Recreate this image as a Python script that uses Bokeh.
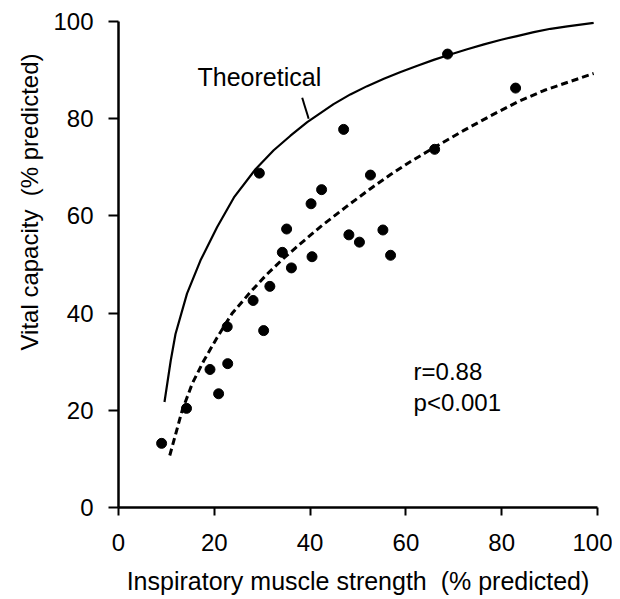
from bokeh.plotting import figure
from bokeh.models import Range1d, FixedTicker, Title
from bokeh.embed import file_html
from bokeh.resources import INLINE
from bokeh.core.properties import value

# Data
obs_x = [9.0, 14.2, 19.1, 20.9, 22.8, 22.7, 30.3, 28.1, 31.6, 34.2, 36.1, 40.4, 35.1,
         40.2, 42.4, 29.4, 47.0, 48.1, 50.3, 52.6, 55.2, 56.8, 66.0, 68.7, 82.9]
obs_y = [13.2, 20.4, 28.4, 23.4, 29.6, 37.2, 36.4, 42.6, 45.5, 52.5, 49.3, 51.6, 57.3,
         62.5, 65.4, 68.8, 77.8, 56.1, 54.6, 68.4, 57.1, 51.9, 73.7, 93.3, 86.3]

theo_x = [9.6, 10.9, 11.9, 14.3, 17.1, 20.6, 24.1, 28.6, 32.4, 35.9, 39.4, 44.9, 48.4, 51.9,
          55.4, 58.9, 62.4, 65.8, 68.6, 72.8, 76.3, 79.7, 83.2, 86.7, 90.2, 93.7, 99.2]
theo_y = [21.7, 30.2, 35.7, 44.0, 50.8, 57.7, 63.8, 69.6, 73.5, 76.5, 79.3, 83.0, 85.0, 86.7,
          88.2, 89.6, 90.9, 92.1, 93.0, 94.3, 95.3, 96.2, 97.0, 97.8, 98.5, 99.0, 99.7]

fit_x = [10.7, 13.3, 15.4, 17.8, 20.6, 23.7, 27.6, 31.0, 34.5, 38.0, 42.2, 47.7, 52.6, 56.8,
         61.0, 66.5, 72.1, 77.7, 83.2, 88.8, 94.4, 99.2]
fit_y = [10.7, 20.0, 25.5, 30.2, 35.0, 39.9, 44.4, 48.0, 51.3, 54.3, 57.8, 62.0, 65.6, 68.5,
         71.2, 74.4, 77.6, 80.6, 83.4, 85.8, 87.7, 89.3]

x_ticks = [0, 20, 40, 60, 80, 100]
y_ticks = [0, 20, 40, 60, 80, 100]

x_title = "Inspiratory muscle strength\u00a0\u00a0(% predicted)"
y_title = "Vital capacity\u00a0\u00a0(% predicted)"

label_theo = "Theoretical"
label_theo_pos = (16.5, 88.6)
leader_x = [38.35, 39.7]
leader_y = [84.3, 80.0]
stats_lines = ["r=0.88", "p<0.001"]
stats_x = [61.6, 61.6]
stats_y = [28.0, 21.7]

FONT = "Liberation Sans"

p = figure(width=612, height=599, output_backend="svg", toolbar_location=None,
           x_range=Range1d(0, 100), y_range=Range1d(0, 100),
           min_border_left=118, min_border_right=15, min_border_top=21, min_border_bottom=92)
p.outline_line_color = None
p.grid.grid_line_color = None
p.background_fill_color = "white"
p.border_fill_color = "white"

for ax in (p.xaxis[0], p.yaxis[0]):
    ax.axis_line_width = 2.5
    ax.axis_line_color = "black"
    ax.major_tick_line_width = 2
    ax.major_tick_in = 0
    ax.minor_tick_line_color = None
    ax.major_label_text_font = FONT
    ax.major_label_text_font_size = "24px"
    ax.major_label_text_color = "black"

p.xaxis.ticker = FixedTicker(ticks=x_ticks)
p.yaxis.ticker = FixedTicker(ticks=y_ticks)
p.xaxis.major_tick_out = 8
p.yaxis.major_tick_out = 10
p.xaxis.major_label_standoff = 18
p.yaxis.major_label_standoff = 15

p.xaxis.axis_label = x_title
p.xaxis.axis_label_text_font = FONT
p.xaxis.axis_label_text_font_size = "25px"
p.xaxis.axis_label_text_font_style = "normal"
p.xaxis.axis_label_text_color = "black"
p.xaxis.axis_label_standoff = 13

ytitle = Title(text=y_title, align="right", offset=32, standoff=15,
               text_font=FONT, text_font_size="24px", text_font_style="normal",
               text_color="black")
p.add_layout(ytitle, "left")

p.line(theo_x, theo_y, line_color="black", line_width=2.2)
p.line(fit_x, fit_y, line_color="black", line_width=3, line_dash="7 4")
p.scatter(obs_x, obs_y, size=10, fill_color="black", line_color="black")

p.line(leader_x, leader_y, line_color="black", line_width=2)
p.text([label_theo_pos[0]], [label_theo_pos[1]], text=[label_theo], text_font=value(FONT),
       text_font_size="25px", text_baseline="middle", text_align="left", text_color="black")
p.text(stats_x, stats_y, text=stats_lines, text_font=value(FONT),
       text_font_size="24px", text_baseline="middle", text_align="left", text_color="black")

open("out.html", "w").write(file_html(p, INLINE))
